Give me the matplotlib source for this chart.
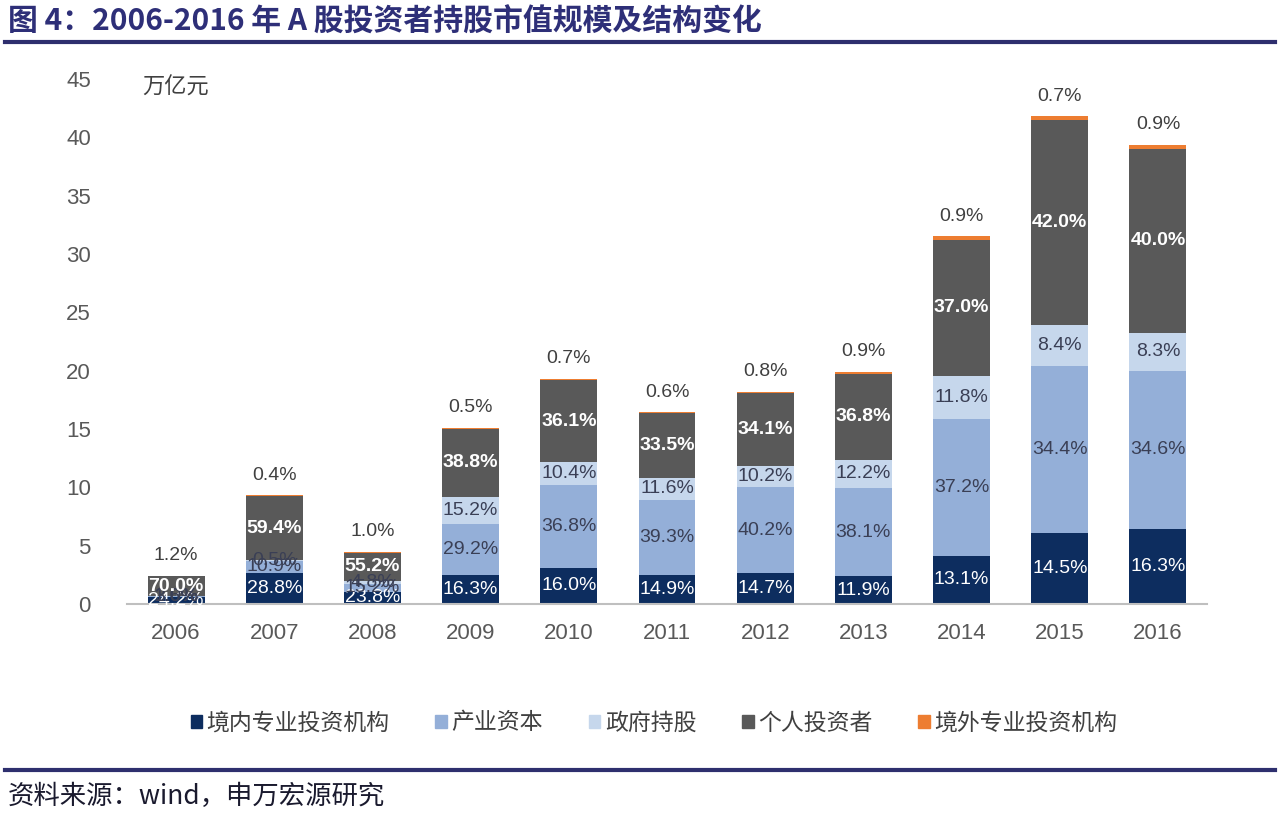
import matplotlib
matplotlib.use("Agg")
import matplotlib.pyplot as plt
from matplotlib.patches import Rectangle
from matplotlib.lines import Line2D
import numpy as np

plt.rcParams['font.family'] = ['Liberation Sans', 'Noto Sans CJK SC', 'DejaVu Sans']

years = ['2006', '2007', '2008', '2009', '2010', '2011', '2012', '2013', '2014', '2015', '2016']
totals = [2.4, 9.3, 4.45, 15.1, 19.3, 16.45, 18.2, 19.9, 31.5, 41.8, 39.3]
series_names = ['境内专业投资机构', '产业资本', '政府持股', '个人投资者', '境外专业投资机构']
pct_domestic = [24.2, 28.8, 23.8, 16.3, 16.0, 14.9, 14.7, 11.9, 13.1, 14.5, 16.3]
pct_industry = [3.0, 10.9, 15.2, 29.2, 36.8, 39.3, 40.2, 38.1, 37.2, 34.4, 34.6]
pct_gov = [1.6, 0.5, 4.8, 15.2, 10.4, 11.6, 10.2, 12.2, 11.8, 8.4, 8.3]
pct_individual = [70.0, 59.4, 55.2, 38.8, 36.1, 33.5, 34.1, 36.8, 37.0, 42.0, 40.0]
pct_foreign = [1.2, 0.4, 1.0, 0.5, 0.7, 0.6, 0.8, 0.9, 0.9, 0.7, 0.9]

colors = ['#0d2d5f', '#94afd8', '#c6d7ec', '#595959', '#ed7d31']
label_colors = ['white', '#3a3f55', '#3a3f55', 'white', '#404040']
label_weights = ['normal', 'normal', 'normal', 'bold', 'normal']

pcts = [pct_domestic, pct_industry, pct_gov, pct_individual, pct_foreign]

fig = plt.figure(figsize=(12.8, 8.14), dpi=100)
ax = fig.add_axes([0.0992, 0.258, 0.8438, 0.645])

x = np.arange(len(years))
bottom = np.zeros(len(years))
width = 0.58
tot = np.array(totals)
for i, (name, p) in enumerate(zip(series_names, pcts)):
    vals = tot * np.array(p) / 100.0
    ax.bar(x, vals, width, bottom=bottom, color=colors[i], label=name, zorder=2)
    for j in range(len(years)):
        if i == 4:
            ax.text(x[j], bottom[j] + vals[j] + 1.0, f'{p[j]:.1f}%', ha='center', va='bottom',
                    fontsize=14, color=label_colors[i])
        else:
            ax.text(x[j], bottom[j] + vals[j] / 2, f'{p[j]:.1f}%', ha='center', va='center',
                    fontsize=14, color=label_colors[i], fontweight=label_weights[i])
    bottom += vals

ax.set_xlim(-0.5, len(years) - 0.5)
ax.set_ylim(0, 45)
ax.set_yticks(np.arange(0, 46, 5))
ax.set_xticks(x)
ax.set_xticklabels(years)
for s in ['top', 'right', 'left']:
    ax.spines[s].set_visible(False)
ax.spines['bottom'].set_color('#bfbfbf')
ax.spines['bottom'].set_linewidth(1.5)
ax.tick_params(axis='both', length=0, labelsize=16, labelcolor='#595959')
ax.tick_params(axis='y', pad=26)
ax.tick_params(axis='x', pad=14)

ax.text(0.0, 44.3, '万亿元', ha='center', va='center', fontsize=16, color='#404040',
        family=['Noto Sans CJK SC'], transform=ax.transData)

handles = [Rectangle((0, 0), 1, 1, color=c) for c in colors]
fig.legend(handles, series_names, loc='center', bbox_to_anchor=(0.511, 0.112), ncol=5,
           frameon=False, prop={'family': ['Noto Sans CJK SC'], 'size': 16.5},
           handlelength=0.5, handleheight=0.5, handletextpad=0.2, columnspacing=2.0,
           labelcolor='#404040')

# title
fig.text(0.006, 0.973, '图 4：2006-2016 年 A 股投资者持股市值规模及结构变化', ha='left', va='center',
         fontsize=21.5, fontweight='bold', color='#2e2f78', family=['Noto Sans CJK SC'])
fig.add_artist(Line2D([0.004, 0.996], [0.948, 0.948], transform=fig.transFigure,
                      color='#2e2f6e', linewidth=3))
fig.add_artist(Line2D([0.004, 0.996], [0.054, 0.054], transform=fig.transFigure,
                      color='#2e2f6e', linewidth=3))
fig.text(0.006, 0.021, '资料来源：wind，申万宏源研究', ha='left', va='center',
         fontsize=19, color='#1a1a2e', family=['Noto Sans CJK SC'])

fig.savefig('out.png', dpi=100, facecolor='white')
